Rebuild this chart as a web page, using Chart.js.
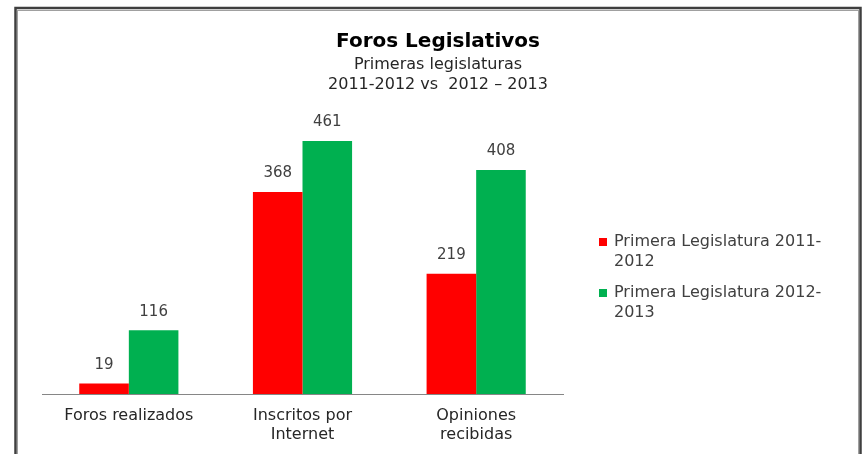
<!DOCTYPE html>
<html>
<head>
<meta charset="utf-8">
<script src="https://cdn.jsdelivr.net/npm/chart.js@4"></script>
<style>
  html, body { margin: 0; padding: 0; background: #ffffff; }
  #wrap { width: 864px; height: 454px; position: relative; }
</style>
</head>
<body>
<div id="wrap"><canvas id="c" width="864" height="454"></canvas></div>
<script>
const categories = ["Foros realizados", ["Inscritos por", "Internet"], ["Opiniones", "recibidas"]];
const seriesNames = ["Primera Legislatura 2011-2012", "Primera Legislatura 2012-2013"];
const legendLines = [["Primera Legislatura 2011-", "2012"], ["Primera Legislatura 2012-", "2013"]];
const values2011 = [19, 368, 219];
const values2012 = [116, 461, 408];
const seriesColors = ["#FF0000", "#00B050"];
const titleText = "Foros Legislativos";
const subtitleLines = ["Primeras legislaturas", "2011-2012 vs  2012 \u2013 2013"];

const FONT = "'DejaVu Sans', sans-serif";

const extras = {
  id: 'extras',
  beforeDraw(chart) {
    const ctx = chart.ctx;
    ctx.save();
    ctx.fillStyle = '#ffffff';
    ctx.fillRect(0, 0, chart.width, chart.height);
    ctx.strokeStyle = '#3f3f3f';
    ctx.lineWidth = 2.5;
    ctx.strokeRect(15.5, 8, 845, chart.height + 20);
    ctx.strokeStyle = '#a0a0a0';
    ctx.lineWidth = 1;
    ctx.strokeRect(17.5, 10.5, 841, chart.height + 20);
    ctx.restore();
  },
  afterDatasetsDraw(chart) {
    const ctx = chart.ctx;
    ctx.save();
    ctx.font = "15px " + FONT;
    ctx.fillStyle = '#404040';
    ctx.textAlign = 'center';
    ctx.textBaseline = 'middle';
    chart.data.datasets.forEach((ds, i) => {
      const meta = chart.getDatasetMeta(i);
      meta.data.forEach((bar, j) => {
        ctx.fillText(String(ds.data[j]), bar.x, bar.y - 18.5);
      });
    });
    ctx.restore();
  },
  afterDraw(chart) {
    const ctx = chart.ctx;
    const area = chart.chartArea;
    ctx.save();
    ctx.font = "16px " + FONT;
    ctx.textAlign = 'left';
    ctx.textBaseline = 'middle';
    const boxX = area.right + 36;
    const textX = boxX + 15;
    let y = 242;
    chart.data.datasets.forEach((ds, i) => {
      ctx.fillStyle = ds.backgroundColor;
      ctx.fillRect(boxX, y - 4, 8, 8);
      ctx.fillStyle = '#404040';
      legendLines[i].forEach((line, k) => {
        ctx.fillText(line, textX, y + k * 19.5);
      });
      y += 51;
    });
    ctx.restore();
  }
};

new Chart(document.getElementById('c'), {
  type: 'bar',
  data: {
    labels: categories,
    datasets: [
      { label: seriesNames[0], data: values2011, backgroundColor: seriesColors[0], categoryPercentage: 0.571, barPercentage: 1.0 },
      { label: seriesNames[1], data: values2012, backgroundColor: seriesColors[1], categoryPercentage: 0.571, barPercentage: 1.0 }
    ]
  },
  options: {
    responsive: false,
    animation: false,
    layout: { padding: { left: 42, right: 30, top: 0, bottom: 9.6 } },
    plugins: {
      legend: { display: false },
      tooltip: { enabled: false },
      title: {
        display: true,
        text: titleText,
        color: '#000000',
        font: { family: FONT, size: 20, weight: 'bold', lineHeight: 1.2 },
        padding: { top: 29.5, bottom: 0 }
      },
      subtitle: {
        display: true,
        text: subtitleLines,
        color: '#262626',
        font: { family: FONT, size: 16, lineHeight: 1.25 },
        padding: { top: 1.5, bottom: 24.6 }
      }
    },
    scales: {
      x: {
        grid: { display: false, drawTicks: false },
        border: { display: true, color: '#868686', width: 1 },
        ticks: {
          color: '#262626',
          font: { family: FONT, size: 16, lineHeight: 1.2 },
          padding: 12,
          maxRotation: 0,
          autoSkip: false
        },
        afterFit(scale) { scale.height = 50.4; }
      },
      y: {
        display: false,
        min: 0,
        max: 500
      },
      yR: {
        type: 'linear',
        position: 'right',
        display: true,
        grid: { display: false, drawTicks: false },
        border: { display: false },
        ticks: { display: false },
        afterFit(scale) { scale.width = 271; }
      }
    }
  },
  plugins: [extras]
});
</script>
</body>
</html>
